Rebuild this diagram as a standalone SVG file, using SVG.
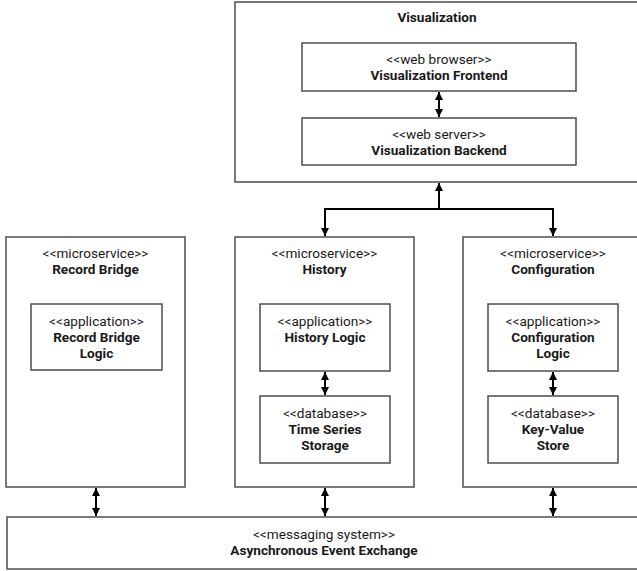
<svg xmlns="http://www.w3.org/2000/svg" width="637" height="571" viewBox="0 0 637 571">
<defs>
<style>
.box{fill:#fff;stroke:#4d4d4d;stroke-width:1.5}
.t{font-family:Roboto,"Liberation Sans",sans-serif;font-size:13.6px;fill:#1a1a1a;text-anchor:middle}
.b{font-weight:bold}
.c{fill:none;stroke:#000;stroke-width:2}
</style>
<marker id="ah" viewBox="0 0 8 8" refX="8" refY="4" markerWidth="8" markerHeight="8" markerUnits="userSpaceOnUse" orient="auto-start-reverse">
<path d="M0,0 L8,4 L0,8 z" fill="#000"/>
</marker>
</defs>
<rect width="637" height="571" fill="#fff"/>

<g id="visualization">
<rect class="box" x="235" y="2" width="404" height="180"/>
<text class="t b" x="437" y="22">Visualization</text>
</g>
<g id="frontend">
<rect class="box" x="302" y="43" width="274" height="48"/>
<text class="t" x="439" y="63.5">&lt;&lt;web browser&gt;&gt;</text>
<text class="t b" x="439" y="79.5">Visualization Frontend</text>
</g>
<g id="backend">
<rect class="box" x="302" y="118" width="274" height="47"/>
<text class="t" x="439" y="138.5">&lt;&lt;web server&gt;&gt;</text>
<text class="t b" x="439" y="154.5">Visualization Backend</text>
</g>

<g id="record-bridge">
<rect class="box" x="6" y="237" width="179" height="250"/>
<text class="t" x="95.5" y="258">&lt;&lt;microservice&gt;&gt;</text>
<text class="t b" x="95.5" y="274">Record Bridge</text>
</g>
<g id="record-bridge-logic">
<rect class="box" x="31" y="304" width="131" height="66"/>
<text class="t" x="96.5" y="326">&lt;&lt;application&gt;&gt;</text>
<text class="t b" x="96.5" y="342">Record Bridge</text>
<text class="t b" x="96.5" y="358">Logic</text>
</g>

<g id="history">
<rect class="box" x="235" y="237" width="179" height="250"/>
<text class="t" x="324.5" y="258">&lt;&lt;microservice&gt;&gt;</text>
<text class="t b" x="324.5" y="274">History</text>
</g>
<g id="history-logic">
<rect class="box" x="260" y="304" width="130" height="67"/>
<text class="t" x="325" y="326">&lt;&lt;application&gt;&gt;</text>
<text class="t b" x="325" y="342">History Logic</text>
</g>
<g id="time-series-storage">
<rect class="box" x="260" y="396" width="130" height="67"/>
<text class="t" x="325" y="417.5">&lt;&lt;database&gt;&gt;</text>
<text class="t b" x="325" y="433.5">Time Series</text>
<text class="t b" x="325" y="449.5">Storage</text>
</g>

<g id="configuration">
<rect class="box" x="463" y="237" width="180" height="250"/>
<text class="t" x="553" y="258">&lt;&lt;microservice&gt;&gt;</text>
<text class="t b" x="553" y="274">Configuration</text>
</g>
<g id="configuration-logic">
<rect class="box" x="488" y="304" width="130" height="67"/>
<text class="t" x="553" y="326">&lt;&lt;application&gt;&gt;</text>
<text class="t b" x="553" y="342">Configuration</text>
<text class="t b" x="553" y="358">Logic</text>
</g>
<g id="key-value-store">
<rect class="box" x="488" y="396" width="130" height="67"/>
<text class="t" x="553" y="417.5">&lt;&lt;database&gt;&gt;</text>
<text class="t b" x="553" y="433.5">Key-Value</text>
<text class="t b" x="553" y="449.5">Store</text>
</g>

<g id="event-exchange">
<rect class="box" x="7" y="517" width="634" height="52"/>
<text class="t" x="324" y="538.5">&lt;&lt;messaging system&gt;&gt;</text>
<text class="t b" x="324" y="554.5">Asynchronous Event Exchange</text>
</g>

<g id="connectors">
<line class="c" x1="439" y1="92" x2="439" y2="117" marker-start="url(#ah)" marker-end="url(#ah)"/>
<line class="c" x1="439" y1="209" x2="439" y2="183" marker-end="url(#ah)"/>
<polyline class="c" points="325,236 325,209 553,209 553,236" marker-start="url(#ah)" marker-end="url(#ah)"/>
<line class="c" x1="325" y1="372" x2="325" y2="395" marker-start="url(#ah)" marker-end="url(#ah)"/>
<line class="c" x1="553" y1="372" x2="553" y2="395" marker-start="url(#ah)" marker-end="url(#ah)"/>
<line class="c" x1="96" y1="488" x2="96" y2="516" marker-start="url(#ah)" marker-end="url(#ah)"/>
<line class="c" x1="325" y1="488" x2="325" y2="516" marker-start="url(#ah)" marker-end="url(#ah)"/>
<line class="c" x1="553" y1="488" x2="553" y2="516" marker-start="url(#ah)" marker-end="url(#ah)"/>
</g>
</svg>
